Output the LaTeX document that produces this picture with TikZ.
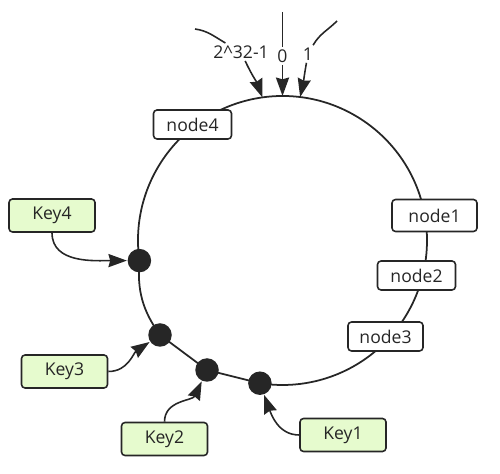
\documentclass[tikz,border=0pt]{standalone}
\usepackage{fontspec}
\setmainfont{Open Sans}
\usetikzlibrary{arrows.meta}
\definecolor{keygreen}{RGB}{230,251,206}
\definecolor{inkgray}{RGB}{38,38,38}

\begin{document}
\begin{tikzpicture}[font=\fontsize{10}{12}\selectfont, line width=0.9pt, draw=inkgray, text=inkgray,
  >={Stealth[length=10.5pt, width=7.5pt, inset=1pt]},
  server/.style={draw=inkgray, fill=white, rounded corners=2pt, minimum width=1.56cm, minimum height=0.58cm, inner sep=2pt},
  keybox/.style={draw=inkgray, fill=keygreen, rounded corners=2pt, minimum width=1.72cm, minimum height=0.66cm, inner sep=2pt},
  hashdot/.style={circle, fill=inkgray, minimum size=0.47cm, inner sep=0pt},
  hashlbl/.style={inner sep=1pt}]
  \useasboundingbox (0,0) rectangle (10,9.48);
  % hash ring
  \coordinate (O) at (5.65,4.67);
  \coordinate (p4) at ([shift={(188:2.89)}]O);
  \coordinate (p1) at ([shift={(-99:2.89)}]O);
  \coordinate (p2) at (4.14,2.08);
  \coordinate (p3) at (3.20,2.78);
  \draw[line width=1pt] (p4) arc[start angle=188, end angle=-99, radius=2.89] -- (p2) -- (p3) to[bend left=20] (p4);
  % servers on the ring
  \node[server] (node4) at (3.85,6.99) {node4};
  \node[server, minimum width=1.7cm, minimum height=0.64cm] (node1) at (8.69,5.17) {node1};
  \node[server] (node2) at (8.33,3.97) {node2};
  \node[server, minimum width=1.5cm] (node3) at (7.71,2.75) {node3};
  % hashed keys
  \node[hashdot] (d1) at (p1) {};
  \node[hashdot] (d2) at (p2) {};
  \node[hashdot] (d3) at (p3) {};
  \node[hashdot] (d4) at (p4) {};
  \node[keybox] (key1) at (6.86,0.78) {Key1};
  \node[keybox] (key2) at (3.29,0.70) {Key2};
  \node[keybox] (key3) at (1.29,2.05) {Key3};
  \node[keybox] (key4) at (1.04,5.17) {Key4};
  \draw[->] (key4) to[out=-90, in=180] (d4);
  \draw[->] (key3) to[out=0, in=214] (d3);
  \draw[->] (key2) to[out=90, in=245] (d2);
  \draw[->] (key1) to[out=180, in=-70] (d1);
  % start of the hash space
  \coordinate (tmax) at ([shift={(98:2.89)}]O);
  \coordinate (tzero) at ([shift={(90:2.89)}]O);
  \coordinate (tone) at ([shift={(83:2.89)}]O);
  \coordinate (smax) at (3.90,8.90);
  \coordinate (szero) at (5.65,9.24);
  \coordinate (sone) at (6.74,9.06);
  \node[hashlbl] (lmax) at (4.82,8.44) {2\textasciicircum 32-1};
  \node[hashlbl] (lzero) at (5.65,8.36) {0};
  \node[hashlbl] (lone) at (6.16,8.40) {1};
  \draw (smax) to[out=-8, in=150] (lmax);
  \draw[->] (lmax) to[out=-65, in=110] (tmax);
  \draw (szero) -- (lzero);
  \draw[->] (lzero) -- (tzero);
  \draw (sone) to[out=-135, in=60] (lone);
  \draw[->] (lone) to[out=-100, in=77] (tone);
\end{tikzpicture}
\end{document}
